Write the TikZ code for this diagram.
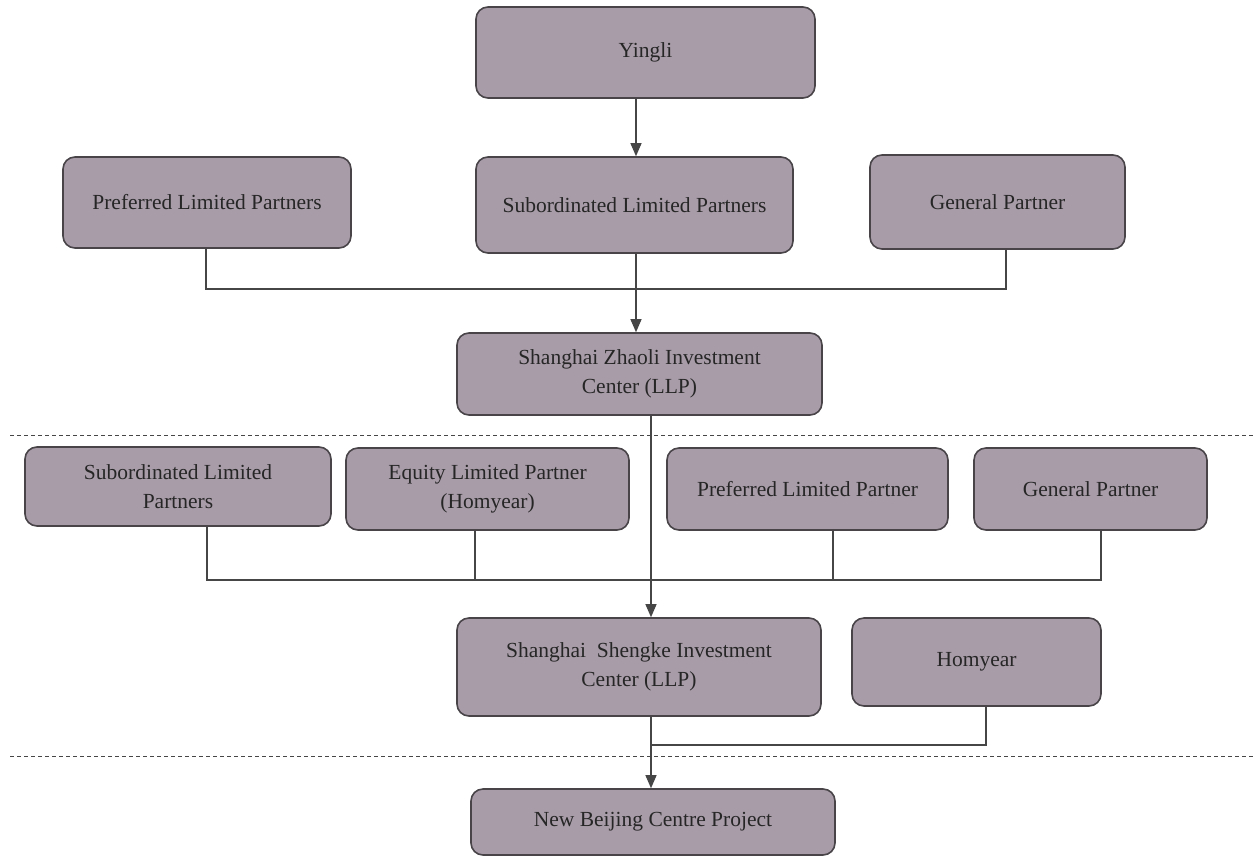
\documentclass[tikz,border=0pt]{standalone}
\usepackage{fontspec}
\setmainfont{Liberation Serif}
\usetikzlibrary{arrows.meta}
\definecolor{boxfill}{RGB}{168,156,168}
\definecolor{boxline}{RGB}{72,68,72}
\definecolor{conn}{RGB}{70,70,70}
\begin{document}
\begin{tikzpicture}[x=1pt,y=-1pt,
  ent/.style={draw=boxline,line width=1.6pt,fill=boxfill,rounded corners=12pt,inner sep=0pt,align=center,font=\fontsize{21.5}{29}\selectfont,text=black!85},
  link/.style={draw=conn,line width=1.2pt},
  arr/.style={link,-{Triangle[length=13pt,width=11pt]}},
  sep/.style={draw=conn,line width=0.9pt,dash pattern=on 4pt off 3pt}]
\useasboundingbox (0,0) rectangle (1253,863);
\newcommand{\ebox}[6]{\node[ent,minimum width=#4-#2,minimum height=#5-#3] (#1) at ({(#2+#4)/2},{(#3+#5)/2}) {#6};}
\ebox{yingli}{476}{7}{815}{98}{Yingli}
\ebox{plp}{63}{157}{351}{248}{Preferred Limited Partners}
\ebox{slp}{476}{157}{793}{253}{Subordinated Limited Partners}
\ebox{gp}{870}{155}{1125}{249}{General Partner}
\ebox{zhaoli}{457}{333}{822}{415}{Shanghai Zhaoli Investment\\Center (LLP)}
\ebox{slp2}{25}{447}{331}{526}{Subordinated Limited\\Partners}
\ebox{elp}{346}{448}{629}{530}{Equity Limited Partner\\(Homyear)}
\ebox{plp2}{667}{448}{948}{530}{Preferred Limited Partner}
\ebox{gp2}{974}{448}{1207}{530}{General Partner}
\ebox{shengke}{457}{618}{821}{716}{Shanghai\ \ Shengke Investment\\Center (LLP)}
\ebox{homyear}{852}{618}{1101}{706}{Homyear}
\ebox{nbc}{471}{789}{835}{855}{New Beijing Centre Project}
% dashed separators
\coordinate (d1a) at (10,435); \coordinate (d1b) at (1253,435);
\coordinate (d2a) at (10,756); \coordinate (d2b) at (1253,756);
\draw[sep] (d1a) -- (d1b);
\draw[sep] (d2a) -- (d2b);
% top level
\draw[arr] (yingli.south -| 636,0) -- (slp.north -| 636,0);
\coordinate (j1) at (636,289);
\draw[link] (plp.south -| 206,0) |- (j1);
\draw[link] (gp.south -| 1006,0) |- (j1);
\draw[arr] (slp.south -| 636,0) -- (zhaoli.north -| 636,0);
% second level
\coordinate (j2) at (651,580);
\draw[link] (slp2.south -| 207,0) |- (j2);
\draw[link] (elp.south -| 475,0) -- (475,580);
\draw[link] (plp2.south -| 833,0) -- (833,580);
\draw[link] (gp2.south -| 1101,0) |- (j2);
\draw[arr] (zhaoli.south -| 651,0) -- (shengke.north -| 651,0);
% third level
\coordinate (j3) at (651,745);
\draw[link] (homyear.south -| 986,0) |- (j3);
\draw[arr] (shengke.south -| 651,0) -- (nbc.north -| 651,0);
\end{tikzpicture}
\end{document}
